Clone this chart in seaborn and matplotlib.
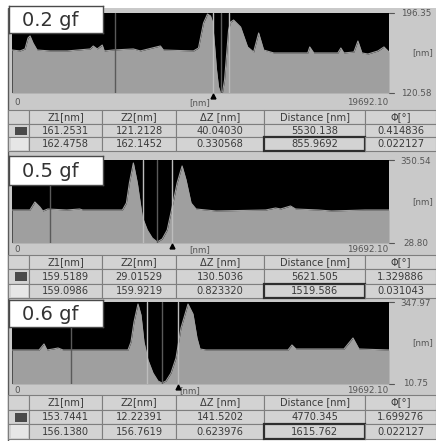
import matplotlib
matplotlib.use("Agg")
import matplotlib.pyplot as plt
import seaborn as sns
from matplotlib.patches import Rectangle

# ------------------------------
# Data
# ------------------------------
X_MAX = 19692.10
labels = ["0.2 gf", "0.5 gf", "0.6 gf"]
y_min = [120.58, 28.80, 10.75]
y_max = [196.35, 350.54, 347.97]

x_02 = [0, 419, 681, 838, 943, 1100, 1309, 1990, 2880, 4085, 4242, 4451, 4713, 4818, 5289,
        6337, 6703, 7751, 7908, 9479, 9741, 10003, 10212, 10369, 10474, 10579, 10684, 10788,
        10893, 10998, 11102, 11207, 11312, 11417, 11574, 11940, 12307, 12621, 12883, 13145,
        13669, 14402, 15449, 15552, 15763, 17020, 17177, 17334, 17858, 18068, 18277, 18591,
        19115, 19429, 19692]
z_02 = [161.3, 160.4, 162.3, 172.7, 174.6, 167.9, 161.3, 160.4, 160.4, 162.3, 165.1, 162.3,
        166.0, 160.4, 161.3, 162.3, 160.4, 165.1, 161.3, 160.4, 163.2, 186.9, 195.4, 193.5,
        187.8, 166.0, 142.4, 126.3, 120.6, 121.5, 132.9, 156.6, 180.2, 187.8, 189.7, 183.1,
        164.2, 159.4, 177.4, 161.3, 158.5, 158.5, 158.5, 164.2, 158.5, 158.5, 163.2, 158.5,
        159.4, 169.8, 158.5, 157.5, 160.4, 164.2, 159.4]

x_05 = [0, 935, 1195, 1455, 1611, 1871, 2858, 3533, 3689, 5768, 5975, 6131, 6339, 6547, 6807,
        7067, 7326, 7586, 7846, 8106, 8366, 8625, 8885, 9093, 9353, 9613, 10652, 13250, 13769,
        14029, 14549, 14809, 16004, 16679, 18446, 19692]
z_05 = [156.7, 156.7, 187.7, 168.4, 152.9, 160.6, 156.7, 160.6, 156.7, 156.7, 183.9, 261.4,
        338.9, 261.4, 129.6, 79.2, 48.2, 32.7, 44.3, 79.2, 168.4, 261.4, 327.3, 273.0, 183.9,
        160.6, 152.9, 156.7, 164.5, 160.6, 172.2, 160.6, 156.7, 152.9, 156.7, 156.7]

x_06 = [0, 1410, 1671, 1828, 2141, 2403, 2664, 6059, 6215, 6372, 6581, 6738, 6894, 7103, 7364,
        7626, 7835, 8043, 8305, 8566, 8827, 9193, 9454, 9663, 9819, 10133, 14415, 14624, 14833,
        17340, 17810, 18123, 19692]
z_06 = [150.6, 150.6, 175.3, 150.6, 154.7, 158.8, 150.6, 150.6, 183.5, 265.7, 339.7, 294.5,
        183.5, 109.5, 56.0, 23.1, 14.9, 23.1, 56.0, 117.7, 241.1, 339.7, 298.6, 200.0, 154.7,
        150.6, 150.6, 171.2, 154.7, 154.7, 199.9, 154.7, 150.6]

profiles = [(x_02, z_02), (x_05, z_05), (x_06, z_06)]

# cursor pairs (dark = row 1, light = row 2)
cursor_dark = [(5363, 10893), (1965, 7586), (3065, 7835)]
cursor_light = [(10474, 11330), (6850, 8370), (7051, 8667)]
marker_x = [10474, 8370, 8667]

table_header = ["", "Z1[nm]", "Z2[nm]", "ΔZ [nm]", "Distance [nm]", "Φ[°]"]
rows_02 = [["161.2531", "121.2128", "40.04030", "5530.138", "0.414836"],
           ["162.4758", "162.1452", "0.330568", "855.9692", "0.022127"]]
rows_05 = [["159.5189", "29.01529", "130.5036", "5621.505", "1.329886"],
           ["159.0986", "159.9219", "0.823320", "1519.586", "0.031043"]]
rows_06 = [["153.7441", "12.22391", "141.5202", "4770.345", "1.699276"],
           ["156.1380", "156.7619", "0.623976", "1615.762", "0.022127"]]
tables = [rows_02, rows_05, rows_06]

# ------------------------------
# Layout (pixels of the 436x441 screenshot)
# ------------------------------
W, H = 436, 441
PLOT_L, PLOT_R = 12, 389
# panel top, plot top, plot bottom, table top, table bottom
geom = [(8, 13, 93, 110, 151),
        (152, 160, 243, 255, 298),
        (299, 302, 384, 395, 439)]
label_boxes = [(9, 6, 103, 33), (9, 156, 103, 185), (9, 300, 103, 327)]
nm_label_x = [200, 200, 190]
col_edges = [8, 29, 102, 176, 264, 365, 436]

FILL = "#9f9f9f"
FRAME = "#c9c9c9"
CELL = "#d3d3d3"
GRID = "#7e7e7e"
TXT = "#3a3a3a"


def frac(x0, y0, x1, y1):
    return [x0 / W, 1 - y1 / H, (x1 - x0) / W, (y1 - y0) / H]


sns.set_style("white")
plt.rcParams["font.family"] = ["DejaVu Sans"]

fig = plt.figure(figsize=(W / 100, H / 100), dpi=100)
fig.patch.set_facecolor("white")

bg = fig.add_axes([0, 0, 1, 1], zorder=0)
bg.set_xlim(0, W)
bg.set_ylim(H, 0)
bg.axis("off")

for i in range(3):
    ptop, ytop, ybot, ttop, tbot = geom[i]

    # frame around plot
    bg.add_patch(Rectangle((8, ptop), W - 8, ttop - ptop, color=FRAME, lw=0))
    bg.plot([PLOT_R, PLOT_R + 5], [ytop, ytop], color="#555555", lw=0.8)
    bg.plot([PLOT_R, PLOT_R + 5], [ybot, ybot], color="#555555", lw=0.8)
    bg.text(416, ytop + 1, f"{y_max[i]:.2f}", fontsize=6.3, color="#555555",
            ha="center", va="center")
    bg.text(423, (ytop + ybot) / 2, "[nm]", fontsize=6.3, color="#555555",
            ha="center", va="center")
    bg.text(416, ybot, f"{y_min[i]:.2f}", fontsize=6.3, color="#555555",
            ha="center", va="center")
    bg.text(14, (ybot + ttop) / 2 + 1, "0", fontsize=6.3, color="#555555",
            ha="left", va="center")
    bg.text(nm_label_x[i], (ybot + ttop) / 2 + 1, "[nm]", fontsize=6.3, color="#555555",
            ha="center", va="center")
    bg.text(388, (ybot + ttop) / 2 + 1, f"{X_MAX:.2f}", fontsize=6.3, color="#555555",
            ha="right", va="center")

    # profile
    ax = fig.add_axes(frac(PLOT_L, ytop, PLOT_R, ybot), zorder=2)
    ax.set_facecolor("black")
    xs, zs = profiles[i]
    ax.fill_between(xs, zs, y_min[i], color=FILL, lw=0)
    sns.lineplot(x=xs, y=zs, ax=ax, color=FILL, lw=0.8, sort=False)
    for xc in cursor_dark[i]:
        ax.axvline(xc, color="#5a5a5a", lw=1)
    for xc in cursor_light[i]:
        ax.axvline(xc, color="#bdbdbd", lw=1)
    ax.plot([marker_x[i]], [-0.04], marker="^", color="black", ms=3.5,
            transform=ax.get_xaxis_transform(), clip_on=False)
    ax.set_xlim(0, X_MAX)
    ax.set_ylim(y_min[i], y_max[i])
    ax.set_xticks([])
    ax.set_yticks([])
    ax.set_xlabel("")
    ax.set_ylabel("")
    for s in ax.spines.values():
        s.set_visible(False)

    # label box
    lb = label_boxes[i]
    lax = fig.add_axes(frac(*lb), zorder=4)
    lax.set_facecolor("white")
    lax.set_xticks([])
    lax.set_yticks([])
    for s in lax.spines.values():
        s.set_color("#4a4a4a")
        s.set_linewidth(1.0)
    lax.text(0.44, 0.48, labels[i], fontsize=14, color="#333333",
             ha="center", va="center", transform=lax.transAxes)

    # table
    tax = fig.add_axes(frac(8, ttop, 436, tbot), zorder=3)
    tax.axis("off")
    cells = [table_header] + [[""] + r for r in tables[i]]
    widths = [(col_edges[k + 1] - col_edges[k]) / (W - 8) for k in range(6)]
    tbl = tax.table(cellText=cells, colWidths=widths, cellLoc="center",
                    bbox=[0, 0, 1, 1])
    tbl.auto_set_font_size(False)
    tbl.set_fontsize(7.1)
    for (r, c), cell in tbl.get_celld().items():
        cell.set_facecolor(CELL)
        cell.set_edgecolor(GRID)
        cell.set_linewidth(0.8)
        cell.get_text().set_color(TXT)
    hl = tbl[2, 4]
    hl.set_edgecolor("#2e2e2e")
    hl.set_linewidth(1.6)
    # legend squares in first column
    tax.add_patch(Rectangle((7 / 428, 1 / 3 + 0.06), 12 / 428, 0.2, color="#4a4a4a", lw=0))
    tax.add_patch(Rectangle((3 / 428, 0.03), 17 / 428, 0.28, color="#e6e6e6", lw=0))

# left border line
bg.plot([7.5, 7.5], [8, H], color="#5a5a5a", lw=1)

fig.savefig("out.png", dpi=100, facecolor=fig.get_facecolor())
